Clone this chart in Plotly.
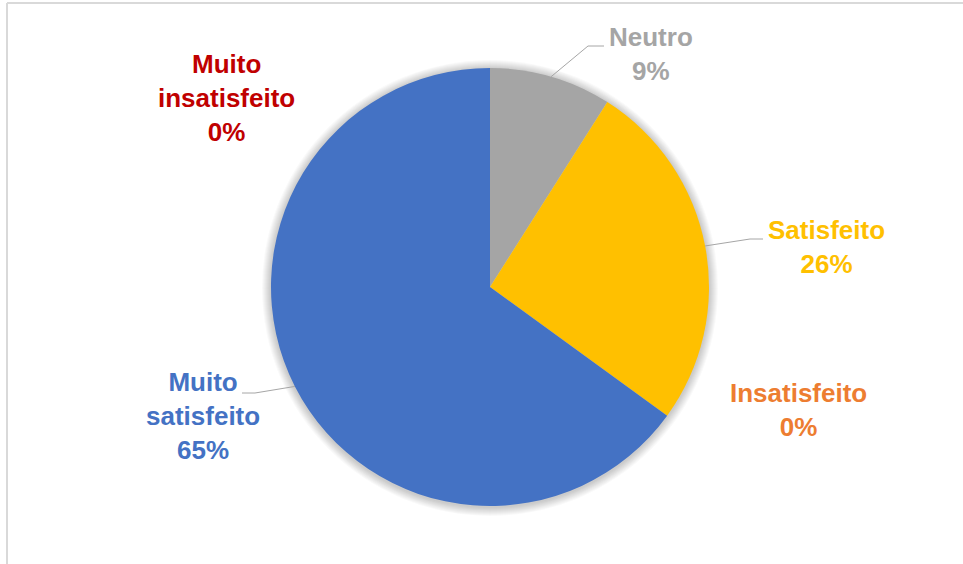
import math
import plotly.graph_objects as go

# Satisfaction survey results (percent)
categories = ["Neutro", "Satisfeito", "Insatisfeito", "Muito satisfeito", "Muito insatisfeito"]
values = [9, 26, 0, 65, 0]
slice_colors = ["#A5A5A5", "#FFC000", "#ED7D31", "#4472C4", "#C00000"]
label_colors = ["#A5A5A5", "#FFC000", "#ED7D31", "#4472C4", "#C00000"]

W, H = 963, 564
CX, CY, R = 490, 287, 219  # pie centre and radius in pixels

# label block centres (pixels) and leader-line elbows/ends (None = no leader)
label_pos = [(651, 54), (826, 247), (798, 410), (203, 416), (226, 98)]
leaders = [((588, 46), (604, 46)), ((750, 239), (763, 239)), None,
           ((255, 393), (242, 393)), None]


def px(x):
    return x / W


def py(y):
    return 1 - y / H


fig = go.Figure()
fig.add_trace(go.Pie(
    labels=categories,
    values=values,
    sort=False,
    direction="clockwise",
    rotation=0,
    marker=dict(colors=slice_colors, line=dict(width=0)),
    textinfo="none",
    hoverinfo="label+percent",
    showlegend=False,
    domain=dict(x=[px(CX - R), px(CX + R)], y=[py(CY + R), py(CY - R)]),
))

shapes = []
# soft halo around the pie
for k in range(1, 10):
    shapes.append(dict(
        type="circle", xref="paper", yref="paper", layer="below",
        x0=px(CX - R - k), x1=px(CX + R + k),
        y0=py(CY + R + k + 1), y1=py(CY - R - k + 1),
        fillcolor="rgba(0,0,0,0.022)", line=dict(width=0),
    ))

# chart frame (top and left edges)
shapes.append(dict(type="line", xref="paper", yref="paper",
                   x0=px(7), x1=1, y0=py(3), y1=py(3),
                   line=dict(color="#D9D9D9", width=2)))
shapes.append(dict(type="line", xref="paper", yref="paper",
                   x0=px(7), x1=px(7), y0=py(3), y1=0,
                   line=dict(color="#D9D9D9", width=2)))

annotations = []
total = sum(values)
cum = 0
for cat, v, col, pos, lead in zip(categories, values, label_colors, label_pos, leaders):
    mid = (cum + v / 2) / total * 2 * math.pi
    cum += v
    pct = round(v / total * 100)
    if lead is not None:
        sx = CX + R * math.sin(mid)
        sy = CY - R * math.cos(mid)
        (ex, ey), (fx, fy) = lead
        shapes.append(dict(type="path", xref="paper", yref="paper",
                           path=f"M {px(sx)} {py(sy)} L {px(ex)} {py(ey)} L {px(fx)} {py(fy)}",
                           line=dict(color="#A6A6A6", width=1)))
    text = cat.replace(" ", "<br>") + f"<br>{pct}%"
    annotations.append(dict(
        x=px(pos[0]), y=py(pos[1]), xref="paper", yref="paper",
        text=f"<b>{text}</b>", showarrow=False, align="center",
        xanchor="center", yanchor="middle",
        font=dict(family="Liberation Sans, Arial, sans-serif", size=26, color=col),
    ))

fig.update_layout(
    width=W, height=H,
    margin=dict(l=0, r=0, t=0, b=0),
    paper_bgcolor="white",
    plot_bgcolor="white",
    shapes=shapes,
    annotations=annotations,
)

fig.write_html("out.html")
